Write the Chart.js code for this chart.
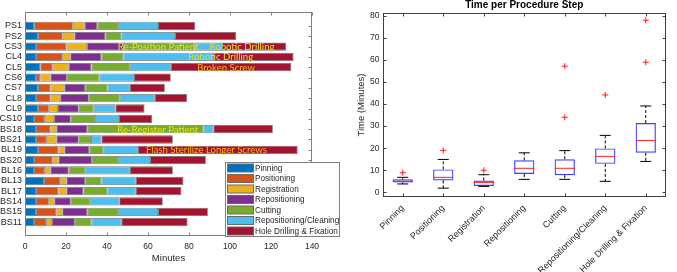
<!DOCTYPE html>
<html><head><meta charset="utf-8">
<script src="https://cdn.jsdelivr.net/npm/chart.js@4.4.1/dist/chart.umd.min.js"></script>
<style>
html,body{margin:0;padding:0;background:#fff;}
#wrap{position:relative;width:677px;height:272px;overflow:hidden;}
#c1{position:absolute;left:0;top:0;width:345px;height:272px;}
#c2{position:absolute;left:345px;top:0;width:332px;height:272px;}
</style></head><body>
<div id="wrap">
<canvas id="c1" width="345" height="272"></canvas>
<canvas id="c2" width="332" height="272"></canvas>
</div>
<script>
// ---------- Left panel: minutes per step, per case ----------
const cases = ['PS1','PS2','CS3','CL4','CL5','CS6','CS7','CL8','CL9','CS10','BS18','BS21','BL19','BS20','BL16','BL13','BL17','BS14','BS15','BS11'];
const steps = ['Pinning','Positioning','Registration','Repositioning','Cutting','Repositioning/Cleaning','Hole Drilling & Fixation'];
const pinning       = [4.5,6.3,5.4,5.4,7.5,5.4,6.3,5.4,6.3,4.4,5.4,5.4,6.3,4.4,4.4,9.3,5.4,5.4,5.4,4.4];
const positioning   = [18.8,12.1,14.8,13.0,6.0,2.1,6.1,7.1,5.3,4.9,7.1,4.9,10.0,9.1,4.9,7.9,10.9,6.2,9.9,5.9];
const registration  = [5.8,5.7,10.1,3.7,7.8,4.9,6.8,4.7,4.5,4.9,2.8,5.0,2.9,2.8,3.1,3.0,3.9,2.7,2.9,2.9];
const repositioning = [6.2,15.1,17.9,15.2,11.1,8.0,10.2,13.9,10.1,8.1,15.1,10.9,12.2,16.3,8.9,9.2,8.3,8.0,12.2,11.1];
const cutting       = [10.0,7.8,34.4,10.7,18.7,15.9,10.8,15.1,7.3,11.9,56.7,6.0,6.8,12.7,8.1,7.9,11.7,9.3,14.9,8.1];
const reposCleaning = [19.6,26.2,13.5,43.8,20.0,16.8,10.9,17.1,10.6,11.6,4.8,5.1,16.8,15.7,21.7,16.7,13.8,14.4,19.6,14.6];
const holeDrilling  = [18.1,29.8,31.3,39.2,58.8,18.0,17.1,15.7,14.2,16.2,29.0,34.8,78.0,27.2,21.0,23.3,22.3,21.2,24.3,32.3];
const minuteTicks = [0,20,40,60,80,100,120,140];

// annotations on the bars (case, position in minutes, text)
const noteCase = ['CS3','CS3','CL4','CL5','BS18','BL19'];
const noteAt   = [45.2,90.0,79.6,84.0,45.0,59.0];
const noteText = ['Re-Position Patient','Robotic Drilling','Robotic Drilling','Broken Screw','Re-Register Patient','Flash Sterilize Longer Screws'];
const noteKind = ['y','y','y','o','y','o'];

// ---------- Right panel: box plot summary per step ----------
const boxQ1   = [4.5,5.4,2.9,8.3,7.8,12.9,17.9];
const boxMed  = [5.0,6.8,4.5,10.9,10.9,16.3,23.5];
const boxQ3   = [5.9,10.4,5.4,14.5,15.0,19.9,31.4];
const whiskLo = [3.8,1.9,2.7,5.9,5.9,5.0,14.0];
const whiskHi = [6.8,14.9,8.0,17.9,18.9,25.8,39.1];
const outliers = [[8.9],[19.0],[10.0],[],[34.0,57.1],[44.1],[58.9,77.9]];
const timeTicks = [0,10,20,30,40,50,60,70,80];

const colors = ['#0072BD','#D95319','#EDB120','#7E2F8E','#77AC30','#4DBEEE','#A2142F'];
const series = [pinning,positioning,registration,repositioning,cutting,reposCleaning,holeDrilling];
const FONT = 'Liberation Sans, Arial, sans-serif';
const AX = '#262626';

const leftFrame = {
  id:'leftFrame',
  afterDatasetsDraw(chart){
    const {ctx, chartArea:a, scales:{x,y}} = chart;
    ctx.save();
    ctx.strokeStyle = '#808080'; ctx.lineWidth = 1;
    const L=Math.round(a.left)+0.5, R=Math.round(a.right)-0.5, T=Math.round(a.top)+0.5, B=Math.round(a.bottom)-0.5;
    ctx.strokeRect(L,T,R-L,B-T);
    ctx.beginPath();
    minuteTicks.forEach(v=>{
      const px = Math.round(x.getPixelForValue(v))+0.5;
      ctx.moveTo(px,T); ctx.lineTo(px,T+3);
      ctx.moveTo(px,B); ctx.lineTo(px,B-3);
    });
    cases.forEach((c,i)=>{
      const py = Math.round(y.getPixelForValue(i))+0.5;
      ctx.moveTo(R,py); ctx.lineTo(R-3,py);
    });
    ctx.stroke();
    // annotations
    ctx.font = '9.6px Lato, sans-serif';
    ctx.textBaseline = 'middle'; ctx.textAlign='left';
    noteText.forEach((t,i)=>{
      ctx.fillStyle = noteKind[i]==='y' ? '#e6e21e' : '#f3b61f';
      ctx.fillText(t, x.getPixelForValue(noteAt[i]), y.getPixelForValue(cases.indexOf(noteCase[i]))+0.5);
    });
    ctx.restore();
  },
  afterDraw(chart){
    const {ctx, chartArea:a} = chart;
    ctx.save();
    const lw=114, lh=74, lx=a.right-87, ly=a.bottom-lh;
    ctx.fillStyle='#fff'; ctx.fillRect(lx,ly,lw,lh);
    ctx.strokeStyle='#808080'; ctx.lineWidth=1;
    ctx.strokeRect(Math.round(lx)+0.5,Math.round(ly)+0.5,lw,lh);
    ctx.font = '8.2px '+FONT; ctx.textBaseline='middle'; ctx.textAlign='left';
    steps.forEach((s,k)=>{
      const cy = ly+6 + k*10.5;
      ctx.fillStyle = colors[k];
      ctx.fillRect(lx+2.5, cy-4, 26, 8);
      ctx.strokeStyle='#6a6a6a'; ctx.strokeRect(lx+2.5, cy-4, 26, 8);
      ctx.fillStyle = AX;
      ctx.fillText(s, lx+30, cy+0.5);
    });
    ctx.restore();
  }
};

new Chart(document.getElementById('c1'), {
  type:'bar',
  data:{
    datasets: steps.map((s,k)=>({
      label:s,
      data: series[k].map((v,i)=>({x:v,y:i})),
      backgroundColor: colors[k],
      borderColor:'#707070',
      borderWidth:0.8,
      borderSkipped:false,
      barPercentage:0.8,
      categoryPercentage:1
    }))
  },
  options:{
    indexAxis:'y', responsive:false, animation:false,
    layout:{padding:{top:12,right:33,left:0,bottom:0}},
    plugins:{legend:{display:false}, tooltip:{enabled:false}},
    scales:{
      x:{type:'linear', stacked:true, min:0, max:140,
        afterBuildTicks(s){ s.ticks = minuteTicks.map(v=>({value:v})); },
        grid:{display:false, drawTicks:false}, border:{display:false},
        ticks:{color:AX, font:{family:FONT,size:8.5}, padding:6},
        title:{display:true, text:'Minutes', color:AX, font:{family:FONT,size:9.5}, padding:{top:0,bottom:8}},
        afterFit(s){ s.height = 36; }
      },
      y:{type:'linear', stacked:true, reverse:true, min:-0.8, max:19.8,
        afterBuildTicks(s){ s.ticks = cases.map((c,i)=>({value:i})); },
        grid:{display:false, drawTicks:false}, border:{display:false},
        ticks:{autoSkip:false, color:AX, font:{family:FONT,size:9}, padding:3, callback:(v)=>cases[v]},
        afterFit(s){ s.width = 25; }
      }
    }
  },
  plugins:[leftFrame]
});

const rightFrame = {
  id:'rightFrame',
  afterDatasetsDraw(chart){
    const {ctx, chartArea:a, scales:{x,y}} = chart;
    ctx.save();
    ctx.strokeStyle = '#404040'; ctx.lineWidth = 1;
    const L=Math.round(a.left)+0.5, R=Math.round(a.right)-0.5, T=Math.round(a.top)+0.5, B=Math.round(a.bottom)-0.5;
    ctx.strokeRect(L,T,R-L,B-T);
    ctx.beginPath();
    timeTicks.forEach(v=>{
      const py = Math.round(y.getPixelForValue(v))+0.5;
      ctx.moveTo(L,py); ctx.lineTo(L+3,py);
      ctx.moveTo(R,py); ctx.lineTo(R-3,py);
    });
    steps.forEach((s,i)=>{
      const px = Math.round(x.getPixelForValue(i))+0.5;
      ctx.moveTo(px,T); ctx.lineTo(px,T+3);
      ctx.moveTo(px,B); ctx.lineTo(px,B-3);
    });
    ctx.stroke();
    ctx.restore();
  },
  afterDraw(chart){
    const {ctx, chartArea:a} = chart;
    ctx.save();
    ctx.font = 'bold 10px '+FONT; ctx.fillStyle='#000';
    ctx.textAlign='center'; ctx.textBaseline='middle';
    ctx.fillText('Time per Procedure Step', (a.left+a.right)/2, 5.5);
    ctx.restore();
  }
};

const whiskerPts = [];
steps.forEach((s,i)=>{
  whiskerPts.push({x:s,y:boxQ3[i]},{x:s,y:whiskHi[i]},{x:s,y:null},{x:s,y:boxQ1[i]},{x:s,y:whiskLo[i]},{x:s,y:null});
});
const capPts = [];
steps.forEach((s,i)=>{ capPts.push({x:s,y:whiskLo[i]},{x:s,y:whiskHi[i]}); });
const outPts = [];
steps.forEach((s,i)=>{ outliers[i].forEach(v=>outPts.push({x:s,y:v})); });

new Chart(document.getElementById('c2'), {
  type:'bar',
  data:{
    labels: steps,
    datasets:[
      {type:'bar', data: boxQ1.map((q,i)=>[q, boxQ3[i]]), backgroundColor:'rgba(0,0,0,0)',
       borderColor:'#3b3bff', borderWidth:1.2, borderSkipped:false, barPercentage:0.5, categoryPercentage:1, order:5},
      {type:'line', data: whiskerPts, borderColor:'#000', borderWidth:1, borderDash:[3,2], pointRadius:0, spanGaps:false, fill:false, order:4},
      {type:'line', data: capPts, showLine:false, pointStyle:'line', pointRadius:5.5, pointBorderColor:'#000', pointBorderWidth:1, order:3},
      {type:'line', data: boxMed.map((m,i)=>({x:steps[i],y:m})), showLine:false, pointStyle:'line', pointRadius:10, pointBorderColor:'#ff2020', pointBorderWidth:1, order:1},
      {type:'line', data: outPts, showLine:false, pointStyle:'cross', pointRadius:3, pointBorderColor:'#ff1a1a', pointBorderWidth:1, order:0}
    ]
  },
  options:{
    responsive:false, animation:false,
    layout:{padding:{top:13,right:1,left:11,bottom:0}},
    plugins:{legend:{display:false}, tooltip:{enabled:false}},
    scales:{
      x:{offset:true, grid:{display:false, drawTicks:false}, border:{display:false},
        ticks:{autoSkip:false, minRotation:45, maxRotation:45, padding:6, color:AX, font:{family:FONT,size:9}},
        afterFit(s){ s.height = 75; }
      },
      y:{min:-2.1, max:81.2,
        afterBuildTicks(s){ s.ticks = timeTicks.map(v=>({value:v})); },
        grid:{display:false, drawTicks:false}, border:{display:false},
        ticks:{padding:3, color:AX, font:{family:FONT,size:8.5}},
        title:{display:true, text:'Time (Minutes)', color:AX, font:{family:FONT,size:9.5}, padding:{top:0,bottom:0}},
        afterFit(s){ s.width = 26.5; }
      }
    }
  },
  plugins:[rightFrame]
});
</script>
</body></html>
